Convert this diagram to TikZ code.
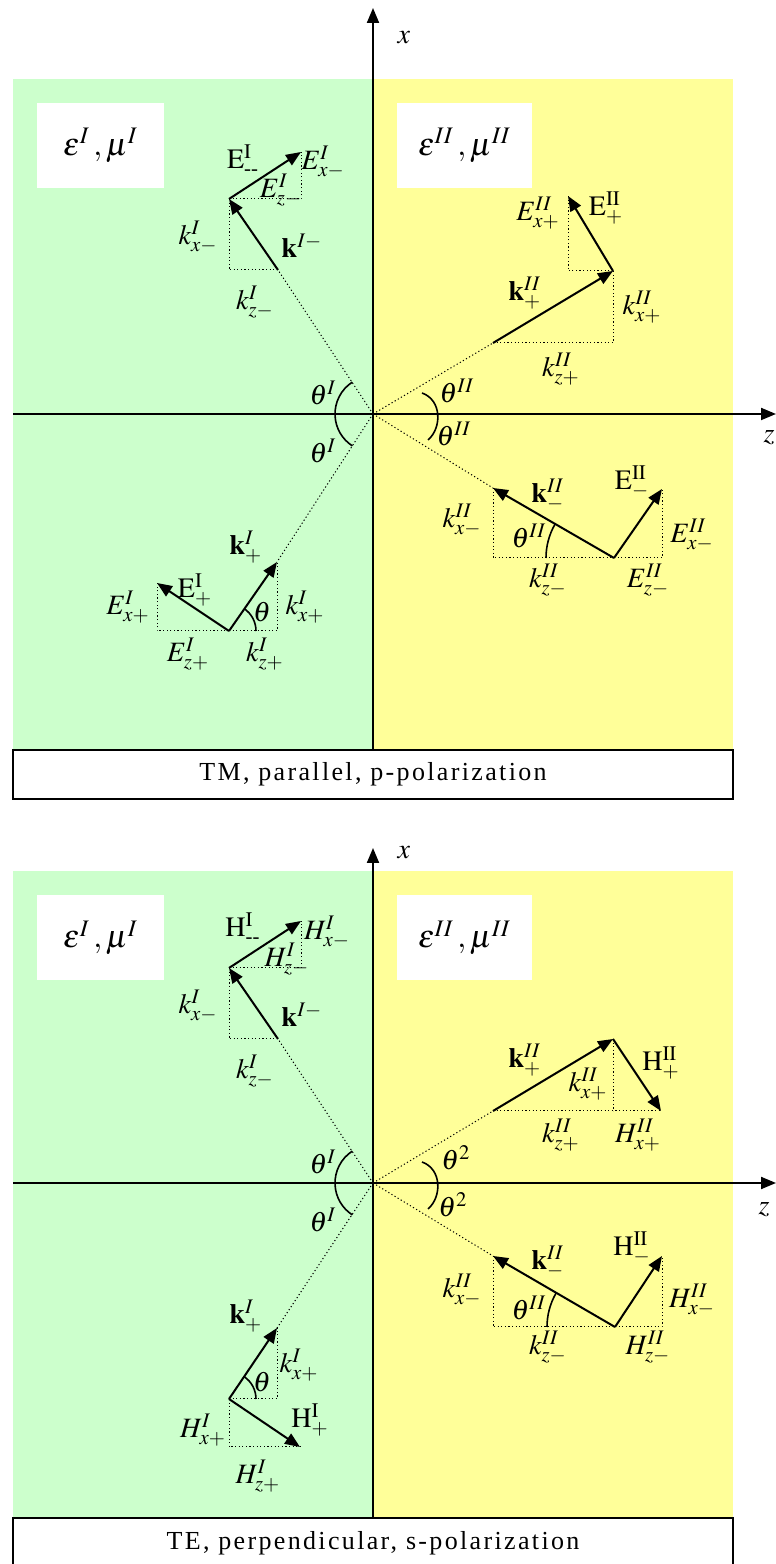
\documentclass[tikz,border=0pt]{standalone}
\usepackage{amsmath,amssymb}
\usepackage{mathptmx}
\usepackage{fontspec}
\setmainfont{Liberation Serif}
\newfontfamily\capfont[LetterSpace=9]{Liberation Serif}
\usetikzlibrary{arrows.meta}

\definecolor{mediumI}{HTML}{CCFFCC}
\definecolor{mediumII}{HTML}{FFFF99}

\begin{document}
\begin{tikzpicture}[x=0.5pt,y=0.5pt,>={Triangle[length=7.5pt,width=6pt]},
    vec/.style={->,line width=1pt},
    aux/.style={line width=0.5pt,dash pattern=on 0.6pt off 1.2pt},
    axis/.style={->,line width=1pt},
    ang/.style={line width=0.8pt},
    lbl/.style={inner sep=0pt,font=\fontsize{14}{16}\selectfont},
    medbox/.style={fill=white,inner sep=0pt,minimum height=42.5pt,font=\fontsize{16}{18}\selectfont},
    capbox/.style={draw,line width=1pt,fill=white,inner sep=0pt,minimum width=360pt,minimum height=24.5pt,font=\capfont\fontsize{13}{15}\selectfont}]
\useasboundingbox (0,0) rectangle (776,1564);

\begin{scope}[shift={(373,1150)}]
\fill[mediumI] (-360,-336) rectangle (0,335);
\fill[mediumII] (0,-336) rectangle (360,335);
\node[medbox,minimum width=63.5pt] (epsA) at (-272.5,268.5) {$\varepsilon^{I}\,,\mu^{I}$};
\node[medbox,minimum width=67.5pt] (epsB) at (91.5,268.5) {$\varepsilon^{II}\,,\mu^{II}$};
\node[capbox] (capTM) at (0,-360.5) {TM, parallel, p-polarization};
\coordinate (O) at (0,0);
\draw[axis] (0,-336) -- (0,406);
\node[lbl] (xA) at (31,376) {$x$};
\draw[axis] (-360,0) -- (403,0);
\node[lbl] (zA) at (396,-24) {$z$};
\coordinate (kmT) at (-95,144);
\coordinate (kmH) at (-144,215);
\coordinate (EmH) at (-72,262);
\coordinate (kpT) at (-144,-217);
\coordinate (kpH) at (-96,-148);
\coordinate (EpH) at (-216,-169);
\coordinate (qpT) at (120,71);
\coordinate (qpH) at (240,143);
\coordinate (FpH) at (195,218);
\coordinate (qmT) at (241,-144);
\coordinate (qmH) at (120,-74);
\coordinate (FmH) at (289,-75);
\draw[aux] (O) -- (kmT);
\draw[aux] (kmH) |- (kmT);
\draw[aux] (kmH) -| (EmH);
\draw[aux] (O) -- (kpH);
\draw[aux] (kpT) -| (kpH);
\draw[aux] (kpT) -| (EpH);
\draw[aux] (O) -- (qpT);
\draw[aux] (qpT) -| (qpH);
\draw[aux] (qpH) -| (FpH);
\draw[aux] (O) -- (qmH);
\draw[aux] (qmH) |- (qmT);
\draw[aux] (qmT) -| (FmH);
\draw[vec] (kmT) -- (kmH);
\draw[vec] (kmH) -- (EmH);
\draw[vec] (kpT) -- (kpH);
\draw[vec] (kpT) -- (EpH);
\draw[vec] (qpT) -- (qpH);
\draw[vec] (qpH) -- (FpH);
\draw[vec] (qmT) -- (qmH);
\draw[vec] (qmT) -- (FmH);
\draw[ang] (O) ++(123:38) arc[start angle=123,end angle=237,radius=38];
\draw[ang] (49,21) .. controls (69,14) and (69,-14) .. (55,-26);
\draw[ang] (kpT) ++(27,0) arc[start angle=0,end angle=56,radius=27];
\draw[ang] (qmT) ++(150:68) arc[start angle=150,end angle=180,radius=68];
\node[lbl] (tIa) at (-50,21) {$\theta^{I}$};
\node[lbl] (tIb) at (-50,-37) {$\theta^{I}$};
\node[lbl] (tIIa) at (84,23) {$\theta^{II}$};
\node[lbl] (tIIb) at (81,-20) {$\theta^{II}$};
\node[lbl] (Em) at (-130,254) {$\mathrm{E}^{\mathrm{I}}_{\text{-{}-}}$};
\node[lbl] (Exm) at (-50,252) {$E^{I}_{x-}$};
\node[lbl] (Ezm) at (-92,224) {$E^{I}_{z-}$};
\node[lbl] (kxm) at (-175,177) {$k^{I}_{x-}$};
\node[lbl] (km) at (-71,168) {$\mathbf{k}^{I-}$};
\node[lbl] (kzm) at (-118,112) {$k^{I}_{z-}$};
\node[lbl] (kp) at (-127,-133) {$\mathbf{k}^{I}_{+}$};
\node[lbl] (Ep) at (-178,-176) {$\mathrm{E}^{\mathrm{I}}_{+}$};
\node[lbl] (Exp) at (-245,-193) {$E^{I}_{x+}$};
\node[lbl] (Ezp) at (-185,-240) {$E^{I}_{z+}$};
\node[lbl] (kzp) at (-108,-240) {$k^{I}_{z+}$};
\node[lbl] (kxp) at (-68,-193) {$k^{I}_{x+}$};
\node[lbl] (tp) at (-111,-198) {$\theta$};
\node[lbl] (qp) at (152,121) {$\mathbf{k}^{II}_{+}$};
\node[lbl] (qxp) at (269,107) {$k^{II}_{x+}$};
\node[lbl] (qzp) at (188,45) {$k^{II}_{z+}$};
\node[lbl] (Fxp) at (165,201) {$E^{II}_{x+}$};
\node[lbl] (Fp) at (233,206) {$\mathrm{E}^{\mathrm{II}}_{+}$};
\node[lbl] (qm) at (175,-81) {$\mathbf{k}^{II}_{-}$};
\node[lbl] (Fm) at (259,-68) {$\mathrm{E}^{\mathrm{II}}_{-}$};
\node[lbl] (qxm) at (89,-106) {$k^{II}_{x-}$};
\node[lbl] (tm) at (156,-122) {$\theta^{II}$};
\node[lbl] (Fxm) at (319,-121) {$E^{II}_{x-}$};
\node[lbl] (qzm) at (175,-166) {$k^{II}_{z-}$};
\node[lbl] (Fzm) at (275,-166) {$E^{II}_{z-}$};
\end{scope}

\begin{scope}[shift={(373,381)}]
\fill[mediumI] (-360,-335) rectangle (0,312);
\fill[mediumII] (0,-335) rectangle (360,312);
\node[medbox,minimum width=63.5pt] (epsA) at (-272.5,245) {$\varepsilon^{I}\,,\mu^{I}$};
\node[medbox,minimum width=67.5pt] (epsB) at (91.5,245) {$\varepsilon^{II}\,,\mu^{II}$};
\node[capbox] (capTE) at (0,-360) {TE, perpendicular, s-polarization};
\coordinate (O) at (0,0);
\draw[axis] (0,-335) -- (0,335);
\node[lbl] (xB) at (31,330) {$x$};
\draw[axis] (-360,0) -- (403,0);
\node[lbl] (zB) at (391,-27) {$z$};
\coordinate (kmT) at (-95,144);
\coordinate (kmH) at (-144,215);
\coordinate (HmH) at (-72,262);
\coordinate (kpT) at (-144,-216);
\coordinate (kpH) at (-96,-145);
\coordinate (HpH) at (-73,-264);
\coordinate (qpT) at (120,72);
\coordinate (qpH) at (240,144);
\coordinate (GpH) at (288,72);
\coordinate (qmT) at (242,-144);
\coordinate (qmH) at (120,-73);
\coordinate (GmH) at (289,-73);
\draw[aux] (O) -- (kmT);
\draw[aux] (kmH) |- (kmT);
\draw[aux] (kmH) -| (HmH);
\draw[aux] (O) -- (kpH);
\draw[aux] (kpT) -| (kpH);
\draw[aux] (kpT) |- (HpH);
\draw[aux] (O) -- (qpT);
\draw[aux] (qpT) -- (GpH);
\draw[aux] (qpH) -- (qpH |- qpT);
\draw[aux] (O) -- (qmH);
\draw[aux] (qmH) |- (qmT);
\draw[aux] (qmT) -| (GmH);
\draw[vec] (kmT) -- (kmH);
\draw[vec] (kmH) -- (HmH);
\draw[vec] (kpT) -- (kpH);
\draw[vec] (kpT) -- (HpH);
\draw[vec] (qpT) -- (qpH);
\draw[vec] (qpH) -- (GpH);
\draw[vec] (qmT) -- (qmH);
\draw[vec] (qmT) -- (GmH);
\draw[ang] (O) ++(123:38) arc[start angle=123,end angle=237,radius=38];
\draw[ang] (49,21) .. controls (69,14) and (69,-14) .. (55,-26);
\draw[ang] (kpT) ++(27,0) arc[start angle=0,end angle=56,radius=27];
\draw[ang] (qmT) ++(150:68) arc[start angle=150,end angle=180,radius=68];
\node[lbl] (tIa) at (-50,21) {$\theta^{I}$};
\node[lbl] (tIb) at (-50,-37) {$\theta^{I}$};
\node[lbl] (tIIa) at (83,25) {$\theta^{2}$};
\node[lbl] (tIIb) at (80,-22) {$\theta^{2}$};
\node[lbl] (Hm) at (-130,255) {$\mathrm{H}^{\mathrm{I}}_{\text{-{}-}}$};
\node[lbl] (Hxm) at (-46,251) {$H^{I}_{x-}$};
\node[lbl] (Hzm) at (-86,224) {$H^{I}_{z-}$};
\node[lbl] (kxm) at (-175,177) {$k^{I}_{x-}$};
\node[lbl] (km) at (-71,168) {$\mathbf{k}^{I-}$};
\node[lbl] (kzm) at (-118,112) {$k^{I}_{z-}$};
\node[lbl] (kp) at (-127,-133) {$\mathbf{k}^{I}_{+}$};
\node[lbl] (kxp) at (-74,-182) {$k^{I}_{x+}$};
\node[lbl] (tp) at (-111,-199) {$\theta$};
\node[lbl] (Hxp) at (-170,-247) {$H^{I}_{x+}$};
\node[lbl] (Hp) at (-63,-237) {$\mathrm{H}^{\mathrm{I}}_{+}$};
\node[lbl] (Hzp) at (-115,-293) {$H^{I}_{z+}$};
\node[lbl] (qp) at (152,123) {$\mathbf{k}^{II}_{+}$};
\node[lbl] (qxp) at (215,99) {$k^{II}_{x+}$};
\node[lbl] (Gp) at (288,120) {$\mathrm{H}^{\mathrm{II}}_{+}$};
\node[lbl] (qzp) at (188,48) {$k^{II}_{z+}$};
\node[lbl] (Gxp) at (265,48) {$H^{II}_{x+}$};
\node[lbl] (qm) at (175,-79) {$\mathbf{k}^{II}_{-}$};
\node[lbl] (Gm) at (259,-65) {$\mathrm{H}^{\mathrm{II}}_{-}$};
\node[lbl] (qxm) at (89,-107) {$k^{II}_{x-}$};
\node[lbl] (tm) at (156,-125) {$\theta^{II}$};
\node[lbl] (Gxm) at (319,-117) {$H^{II}_{x-}$};
\node[lbl] (qzm) at (175,-164) {$k^{II}_{z-}$};
\node[lbl] (Gzm) at (275,-164) {$H^{II}_{z-}$};
\end{scope}
\end{tikzpicture}
\end{document}
